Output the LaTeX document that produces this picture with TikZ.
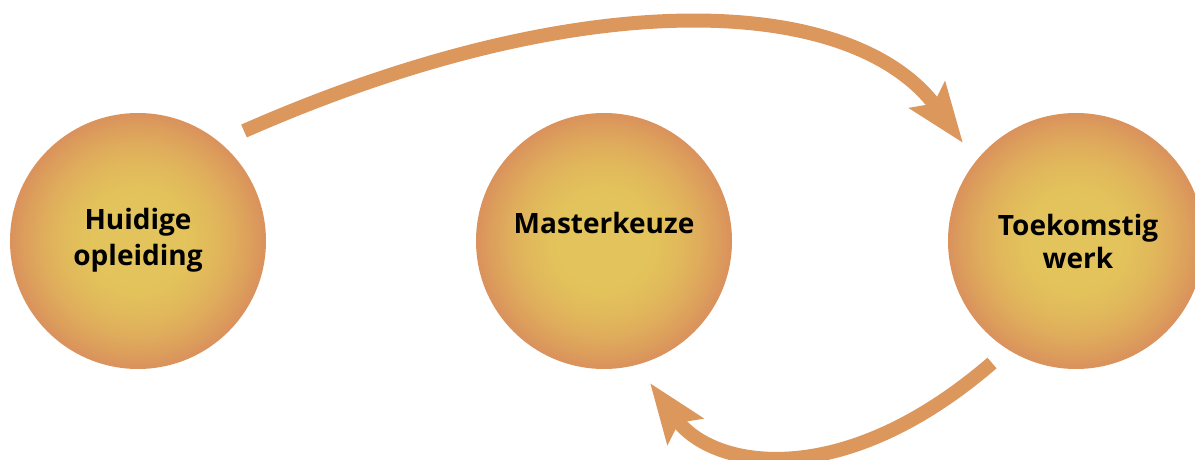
\documentclass[tikz,border=0pt]{standalone}
\usepackage{fontspec}
\setmainfont{Open Sans}
\usetikzlibrary{arrows.meta}
\definecolor{cin}{HTML}{E3C35B}
\definecolor{cout}{HTML}{DA935C}
\definecolor{arr}{HTML}{DC975D}
\tikzset{
  ball/.style={circle, minimum size=256pt, inner sep=0pt},
  lbl/.style={font=\bfseries\fontsize{28}{36}\selectfont, align=center, text=black, inner sep=0pt},
  flow/.style={draw=arr, line width=14pt, -{Stealth[length=59pt, width=43pt, inset=10pt]}}
}
\begin{document}
\begin{tikzpicture}[x=1pt,y=-1pt]
\useasboundingbox (0,0) rectangle (1195,460);
\node[ball] (huidig) at (138,241) {};
\node[ball] (master) at (604,241) {};
\node[ball] (toekomst) at (1076,241) {};
\foreach \c in {huidig,master,toekomst}{
  \foreach \k in {0,...,48}{
    \pgfmathsetmacro\f{1-\k/48}
    \pgfmathsetmacro\t{100*(max(0,(\f-0.35)/0.65))^1.6}
    \fill[cout!\t!cin] (\c.center) circle[radius=128*\f pt];
  }
}
\node[lbl, anchor=base] (thuidig) at (138,265) {Huidige\\opleiding};
\node[lbl, anchor=base] (tmaster) at (604,233) {Masterkeuze};
\node[lbl, anchor=base] (ttoekomst) at (1078,268) {Toekomstig\\[-3pt]werk};
\coordinate (s1) at (244,131);
\coordinate (e1) at (963,143);
\coordinate (s2) at (992,363);
\coordinate (e2) at (650,383);
\draw[flow] (s1) .. controls (585,-19) and (852.6,-5.4) .. (e1);
\draw[flow] (s2) .. controls (840.6,493.6) and (712,468) .. (e2);
\end{tikzpicture}
\end{document}
